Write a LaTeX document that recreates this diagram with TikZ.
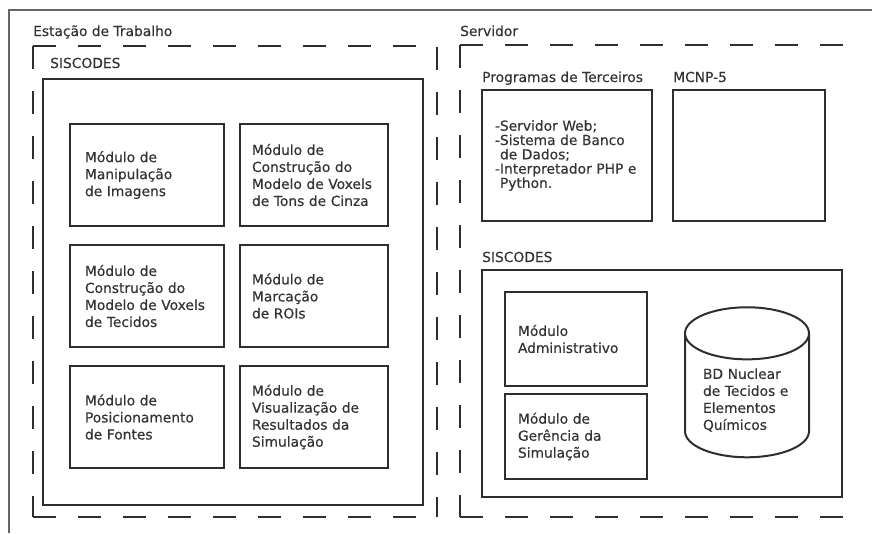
\documentclass[tikz,border=0pt]{standalone}
\usepackage{fontspec}
\setmainfont{DejaVu Sans}[FakeBold=0.4]
\usetikzlibrary{shapes.geometric}
\definecolor{linecol}{gray}{0.18}
\definecolor{textcol}{gray}{0.2}
\definecolor{framecol}{gray}{0.4}

\begin{document}
\begin{tikzpicture}[x=1pt,y=-1pt]
    % Define style for the boxes, labels and dashed areas
    \tikzstyle{txt} = [font=\fontsize{13.8}{17}\selectfont, text=textcol]
    \tikzstyle{box} = [txt, rectangle, draw=linecol, line width=2pt, align=left, inner ysep=0pt]
    \tikzstyle{lbl} = [txt, anchor=base west, inner sep=0pt]
    \tikzstyle{area} = [draw=linecol, line width=2pt, dash pattern=on 23pt off 22pt]
    \tikzstyle{panel} = [draw=linecol, line width=2pt]

    \useasboundingbox (0,0) rectangle (872,533);

    % Outer frame
    \draw[framecol, line width=1.3pt] (9,533) -- (9,10) -- (872,10);

    % Dashed areas
    \draw[area] (33,46) -- (437,46) (33,46) -- (33,517) (33,517) -- (437,517) (437,47) -- (437,517);
    \draw[area] (460,45) -- (845,45) (460,45) -- (460,517) (460,517) -- (845,517);
    \node[lbl] (estacao) at (33,36) {Estação de Trabalho};
    \node[lbl] (servidor) at (460,36) {Servidor};

    % Workstation modules
    \draw[panel] (43,79) rectangle (423,505);
    \node[lbl] (siscodesA) at (50,68) {SISCODES};
    \foreach \name/\y/\t in {manipulacao/175/{Módulo de\\Manipulação\\de Imagens},
                             tecidos/296/{Módulo de\\Construção do\\Modelo de Voxels\\de Tecidos},
                             fontes/417/{Módulo de\\Posicionamento\\de Fontes}} {
        \node[box, minimum width=154pt, minimum height=102pt, inner xsep=15pt, text width=124pt] (\name) at (147,\y) {\t};
    }
    \foreach \name/\y/\t in {tonscinza/175/{Módulo de\\Construção do\\Modelo de Voxels\\de Tons de Cinza},
                             rois/296/{Módulo de\\Marcação\\de ROIs},
                             visualizacao/417/{Módulo de\\Visualização de\\Resultados da\\Simulação}} {
        \node[box, minimum width=148pt, minimum height=102pt, inner xsep=12pt, text width=124pt] (\name) at (314,\y) {\t};
    }

    % Server programs
    \node[lbl] (programas) at (482,82) {Programas de Terceiros};
    \node[lbl] (mcnplbl) at (673,82) {MCNP-5};
    \node[box, minimum width=170pt, minimum height=131pt, inner xsep=13pt, text width=144pt,
          font=\fontsize{13.8}{14.3}\selectfont] (terceiros) at (567,155.5)
          {-Servidor Web;\\-Sistema de Banco\\\hspace*{5pt}de Dados;\\-Interpretador PHP e\\\hspace*{5pt}Python.};
    \node[box, minimum width=152pt, minimum height=131pt] (mcnp) at (749,155.5) {};

    % Server modules
    \draw[panel] (482,270) rectangle (842,497);
    \node[lbl] (siscodesB) at (482,262) {SISCODES};
    \node[box, minimum width=142pt, minimum height=94pt, inner xsep=13pt, text width=116pt] (admin) at (576,339) {Módulo\\Administrativo};
    \node[box, minimum width=142pt, minimum height=85pt, inner xsep=13pt, text width=116pt] (gerencia) at (576,436.5) {Módulo de\\Gerência da\\Simulação};
    \node[txt, cylinder, shape border rotate=90, aspect=0.55, draw=linecol, line width=2pt,
          minimum width=124pt, minimum height=150pt, align=left, text width=88pt] (bdnuclear) at (747,400)
          {BD Nuclear\\de Tecidos e\\Elementos\\Químicos};
\end{tikzpicture}
\end{document}
